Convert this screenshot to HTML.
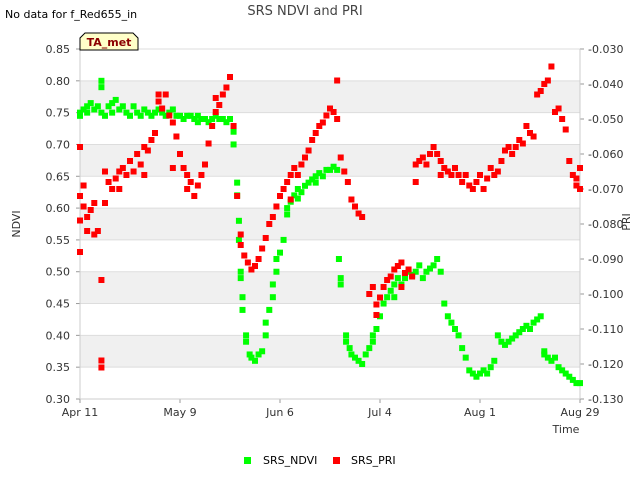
<!DOCTYPE html>
<html><head><meta charset="utf-8"><style>
body{margin:0;background:#fff;font-family:"Liberation Sans",sans-serif}
svg text{font-family:"DejaVu Sans","Liberation Sans",sans-serif}
</style></head><body>
<svg id="chart" width="640" height="480" viewBox="0 0 640 480">
<text x="5" y="18" font-size="11" fill="#000">No data for f_Red655_in</text>
<text x="305" y="15" font-size="13" fill="#444" text-anchor="middle">SRS NDVI and PRI</text>
<g id="bands"></g>
<g id="axes"></g>
<g id="marks"></g>
<g>
<path d="M80,50 L80,38 L85,33 L133,33 L138,38 L138,50 Z" fill="#ffffc8" stroke="#000" stroke-width="1"/>
<text x="109" y="46" font-size="11" font-weight="bold" fill="#8b0000" text-anchor="middle">TA_met</text>
</g>
<text x="20" y="224" font-size="11" fill="#333" text-anchor="middle" transform="rotate(-90 20 224)">NDVI</text>
<text x="630" y="222" font-size="11" fill="#333" text-anchor="middle" transform="rotate(-90 630 222)">PRI</text>
<text x="566" y="433" font-size="11" fill="#333" text-anchor="middle">Time</text>
<g>
<rect x="244" y="457" width="7" height="7" fill="#00ff00"/>
<text x="263" y="464" font-size="11" fill="#000">SRS_NDVI</text>
<rect x="333" y="457" width="7" height="7" fill="#ff0000"/>
<text x="351" y="464" font-size="11" fill="#000">SRS_PRI</text>
</g>
</svg>
<script>
const xTickLabels=["Apr 11","May 9","Jun 6","Jul 4","Aug 1","Aug 29"];
const xTickDays=[0,28,56,84,112,140];
const ndviTicks=[0.30,0.35,0.40,0.45,0.50,0.55,0.60,0.65,0.70,0.75,0.80,0.85];
const priTicks=[-0.130,-0.120,-0.110,-0.100,-0.090,-0.080,-0.070,-0.060,-0.050,-0.040,-0.030];
const ndviPoints=[[0,.745],[0,.75],[1,.755],[2,.76],[2,.75],[3,.765],[4,.755],[5,.76],[6,.80],[6,.79],[6,.75],[7,.745],[8,.76],[9,.765],[9,.75],[10,.77],[11,.755],[12,.76],[13,.75],[14,.745],[15,.76],[16,.75],[17,.745],[18,.755],[19,.75],[20,.745],[21,.75],[22,.755],[23,.75],[24,.745],[25,.75],[26,.755],[27,.745],[28,.745],[29,.74],[30,.745],[31,.745],[32,.74],[33,.735],[33,.745],[34,.74],[35,.74],[36,.735],[37,.74],[38,.745],[39,.74],[40,.74],[41,.735],[42,.74],[43,.72],[43,.70],[44,.64],[44,.62],[44.5,.58],[44.5,.55],[45,.50],[45,.49],[45.5,.46],[45.5,.44],[46.5,.40],[46.5,.39],[47.5,.37],[48,.365],[49,.36],[50,.37],[51,.375],[52,.40],[52,.42],[53,.44],[54,.46],[54,.48],[55,.50],[55,.52],[56,.53],[57,.55],[58,.59],[58,.60],[59,.61],[60,.62],[61,.63],[61,.615],[62,.625],[63,.635],[64,.64],[65,.645],[66,.65],[66,.64],[67,.655],[68,.65],[69,.66],[70,.66],[71,.665],[72,.66],[72.5,.52],[73,.49],[73,.48],[74.5,.40],[74.5,.39],[75.5,.38],[76,.37],[77,.365],[78,.36],[79,.355],[80,.37],[81,.38],[82,.39],[82,.40],[83,.41],[84,.43],[85,.45],[86,.46],[87,.47],[88,.48],[88,.46],[89,.49],[90,.48],[91,.49],[92,.50],[93,.495],[94,.50],[95,.51],[96,.49],[97,.50],[98,.505],[99,.51],[100,.52],[101,.50],[102,.45],[103,.43],[104,.42],[105,.41],[106,.40],[107,.38],[108,.365],[109,.345],[110,.34],[111,.335],[112,.34],[113,.345],[114,.34],[115,.35],[116,.36],[117,.40],[118,.39],[119,.385],[120,.39],[121,.395],[122,.40],[123,.405],[124,.41],[125,.415],[126,.41],[127,.42],[128,.425],[129,.43],[130,.375],[130,.37],[131,.365],[132,.36],[133,.365],[134,.35],[135,.345],[136,.34],[137,.335],[138,.33],[139,.325],[140,.325]];
const priPoints=[[0,-.072],[0,-.079],[0,-.088],[0,-.058],[1,-.075],[1,-.069],[2,-.078],[2,-.082],[3,-.076],[4,-.074],[4,-.083],[5,-.082],[6,-.096],[6,-.119],[6,-.121],[7,-.074],[7,-.065],[8,-.068],[9,-.070],[10,-.067],[11,-.065],[11,-.070],[12,-.064],[13,-.066],[14,-.062],[15,-.065],[16,-.060],[17,-.063],[18,-.058],[18,-.066],[19,-.059],[20,-.056],[21,-.054],[22,-.045],[22,-.043],[23,-.047],[24,-.043],[25,-.049],[26,-.051],[26,-.064],[27,-.055],[28,-.060],[29,-.064],[30,-.066],[30,-.070],[31,-.068],[32,-.072],[33,-.069],[34,-.066],[35,-.063],[36,-.057],[37,-.052],[38,-.048],[38,-.044],[39,-.046],[40,-.043],[41,-.041],[42,-.038],[43,-.052],[44,-.072],[45,-.083],[45,-.086],[46,-.089],[47,-.091],[48,-.093],[49,-.092],[50,-.090],[51,-.087],[52,-.084],[53,-.080],[54,-.078],[55,-.075],[56,-.072],[57,-.070],[58,-.068],[59,-.066],[59,-.073],[60,-.064],[61,-.066],[62,-.063],[63,-.061],[64,-.059],[65,-.056],[66,-.054],[67,-.052],[68,-.051],[69,-.049],[70,-.047],[71,-.048],[72,-.039],[72,-.050],[73,-.061],[74,-.065],[75,-.068],[76,-.073],[77,-.075],[78,-.077],[79,-.078],[81,-.100],[82,-.098],[83,-.103],[83,-.106],[84,-.101],[85,-.098],[86,-.096],[87,-.095],[88,-.093],[89,-.092],[90,-.091],[90,-.098],[91,-.094],[92,-.093],[93,-.095],[94,-.063],[94,-.068],[95,-.062],[96,-.061],[97,-.063],[98,-.060],[99,-.058],[100,-.060],[101,-.062],[101,-.066],[102,-.064],[103,-.065],[104,-.066],[105,-.064],[106,-.066],[107,-.068],[108,-.066],[109,-.069],[110,-.070],[111,-.068],[112,-.066],[113,-.070],[114,-.067],[115,-.064],[116,-.066],[117,-.065],[118,-.062],[119,-.059],[120,-.058],[121,-.060],[122,-.058],[123,-.056],[124,-.057],[125,-.052],[126,-.054],[127,-.055],[128,-.043],[129,-.042],[130,-.040],[131,-.039],[132,-.035],[133,-.048],[134,-.047],[135,-.050],[136,-.053],[137,-.062],[138,-.066],[139,-.067],[139,-.069],[140,-.064],[140,-.070]];

const NS="http://www.w3.org/2000/svg";
const L=80,R=580,T=49,B=399;
function xs(d){return L+(d-0)/(140-0)*(R-L);}
function yl(v){return B-(v-0.30)/(0.85-0.30)*(B-T);}
function yr(v){return B-(v+0.130)/(0.100)*(B-T);}
function mk(tag,attrs,parent){const e=document.createElementNS(NS,tag);for(const k in attrs)e.setAttribute(k,attrs[k]);parent.appendChild(e);return e;}
const bands=document.getElementById('bands'),axes=document.getElementById('axes'),marks=document.getElementById('marks');
mk('rect',{x:L,y:T,width:R-L,height:B-T,fill:'#fff'},bands);
for(let i=0;i<ndviTicks.length-1;i++){
  if(i%2===1){const r=mk('rect',{x:L,y:yl(ndviTicks[i+1]),width:R-L,height:yl(ndviTicks[i])-yl(ndviTicks[i+1]),fill:'#f0f0f0'},bands);
  
  }
}
for(const v of ndviTicks){
  const g=mk('line',{x1:L,x2:R,y1:yl(v),y2:yl(v),stroke:'#ddd','stroke-width':1},bands);
  
  
  const t=mk('text',{x:L-10,y:yl(v)+4,'font-size':11,fill:'#333','text-anchor':'end'},axes);
  t.textContent=v.toFixed(2);
  
  
  mk('line',{x1:L-4,x2:L,y1:yl(v),y2:yl(v),stroke:'#999'},axes);
}
for(const v of priTicks){
  const t=mk('text',{x:R+8,y:yr(v)+4,'font-size':11,fill:'#333'},axes);
  t.textContent=v.toFixed(3);
  
  
  mk('line',{x1:R,x2:R+4,y1:yr(v),y2:yr(v),stroke:'#999'},axes);
}
xTickDays.forEach((d,i)=>{
  const t=mk('text',{x:xs(d),y:B+17,'font-size':11,fill:'#333','text-anchor':'middle'},axes);
  t.textContent=xTickLabels[i];
  
  
  mk('line',{x1:xs(d),x2:xs(d),y1:B,y2:B+4,stroke:'#999'},axes);
});
mk('line',{x1:L,x2:L,y1:T,y2:B,stroke:'#ccc'},axes);
mk('line',{x1:R,x2:R,y1:T,y2:B,stroke:'#ccc'},axes);
mk('line',{x1:L,x2:R,y1:B,y2:B,stroke:'#ccc'},axes);
for(const p of ndviPoints){
  const r=mk('rect',{x:xs(p[0])-3,y:yl(p[1])-3,width:6,height:6,fill:'#00ff00'},marks);
  
  
}
for(const p of priPoints){
  const r=mk('rect',{x:xs(p[0])-3,y:yr(p[1])-3,width:6,height:6,fill:'#ff0000'},marks);
  
  
}
</script>
</body></html>
